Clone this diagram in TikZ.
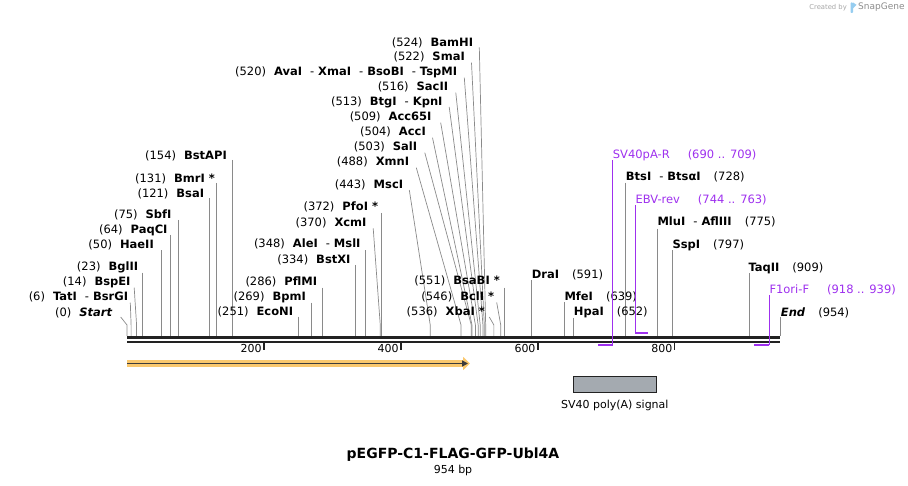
\documentclass[tikz,border=0pt]{standalone}
\usepackage{fontspec}
\setmainfont{DejaVu Sans}
\usepackage{tikz}
\usetikzlibrary{calc,arrows.meta,backgrounds}

\definecolor{sitegray}{RGB}{138,138,138}
\definecolor{primerpurple}{RGB}{158,48,238}
\definecolor{barblack}{RGB}{34,34,34}
\definecolor{cdsorange}{RGB}{250,200,110}
\definecolor{cdsline}{RGB}{60,60,60}
\definecolor{featgray}{RGB}{164,170,176}
\definecolor{logoblue}{RGB}{150,205,240}

\tikzstyle{lefttag} = [anchor=east, inner sep=0pt, font=\fontsize{11.5}{13}\selectfont, text height=10pt, text depth=1.6pt]
\tikzstyle{righttag} = [lefttag, anchor=west]
\tikzstyle{primertag} = [righttag, text=primerpurple]
\tikzstyle{siteline} = [draw=sitegray, line width=0.7pt]
\tikzstyle{primerline} = [draw=primerpurple, line width=1.2pt]
\tikzstyle{primerbar} = [draw=primerpurple, line width=2pt]
\tikzstyle{ticklabel} = [anchor=east, inner sep=0pt, font=\fontsize{11}{13}\selectfont]

\newcommand{\tagnum}[1]{(#1)\hskip 8pt}
\newcommand{\tagpos}[1]{\hskip 13pt(#1)}
\newcommand{\dsh}{\hskip 8pt-\hskip 4pt}

\begin{document}
\begin{tikzpicture}[x=1pt,y=-1pt]
\useasboundingbox (0,0) rectangle (908,486);

%==============================================
%Sites on the sequence
%==============================================
\foreach \p in {0,6,14,23,50,64,75,121,131,154,200,251,269,286,334,348,370,372,400,443,488,503,504,509,513,516,520,522,524,536,546,551,591,600,639,652,728,775,797,800,909,954}
  \coordinate (s\p) at ({127+0.6845*\p},336);

%Left group==============================================
\node[lefttag] (start) at (112.7,312) {\tagnum{0}\textbf{\textit{Start}}};
\node[lefttag] (tati) at (128.3,296.7) {\tagnum{6}\textbf{TatI}\dsh\textbf{BsrGI}};
\node[lefttag] (bspei) at (130.7,281.7) {\tagnum{14}\textbf{BspEI}};
\node[lefttag] (bglii) at (138.3,266.7) {\tagnum{23}\textbf{BglII}};
\node[lefttag] (haeii) at (154,244.5) {\tagnum{50}\textbf{HaeII}};
\node[lefttag] (paqci) at (167.7,229) {\tagnum{64}\textbf{PaqCI}};
\node[lefttag] (sbfi) at (171.7,214) {\tagnum{75}\textbf{SbfI}};
\node[lefttag] (bsai) at (204.3,193.3) {\tagnum{121}\textbf{BsaI}};
\node[lefttag] (bmri) at (215,178) {\tagnum{131}\textbf{BmrI *}};
\node[lefttag] (bstapi) at (227,155) {\tagnum{154}\textbf{BstAPI}};

%Middle group==============================================
\node[lefttag] (econi) at (293.3,311.7) {\tagnum{251}\textbf{EcoNI}};
\node[lefttag] (bpmi) at (306,296.7) {\tagnum{269}\textbf{BpmI}};
\node[lefttag] (pflmi) at (317.3,281.7) {\tagnum{286}\textbf{PflMI}};
\node[lefttag] (bstxi) at (350.7,259) {\tagnum{334}\textbf{BstXI}};
\node[lefttag] (alei) at (360.7,243.3) {\tagnum{348}\textbf{AleI}\dsh\textbf{MslI}};
\node[lefttag] (xcmi) at (366.7,222.3) {\tagnum{370}\textbf{XcmI}};
\node[lefttag] (pfoi) at (378.3,206) {\tagnum{372}\textbf{PfoI *}};

%MCS group==============================================
\node[lefttag] (msci) at (403.3,184) {\tagnum{443}\textbf{MscI}};
\node[lefttag] (xmni) at (409.3,161.7) {\tagnum{488}\textbf{XmnI}};
\node[lefttag] (sali) at (417.3,146.7) {\tagnum{503}\textbf{SalI}};
\node[lefttag] (acci) at (426,131.7) {\tagnum{504}\textbf{AccI}};
\node[lefttag] (acc65i) at (431.7,116.7) {\tagnum{509}\textbf{Acc65I}};
\node[lefttag] (btgi) at (442.7,101) {\tagnum{513}\textbf{BtgI}\dsh\textbf{KpnI}};
\node[lefttag] (sacii) at (448.3,86.7) {\tagnum{516}\textbf{SacII}};
\node[lefttag] (avai) at (457.3,71.7) {\tagnum{520}\textbf{AvaI}\dsh\textbf{XmaI}\dsh\textbf{BsoBI}\dsh\textbf{TspMI}};
\node[lefttag] (smai) at (465,56.7) {\tagnum{522}\textbf{SmaI}};
\node[lefttag] (bamhi) at (473.3,42.3) {\tagnum{524}\textbf{BamHI}};
\node[lefttag] (xbai) at (485,311) {\tagnum{536}\textbf{XbaI *}};
\node[lefttag] (bcli) at (494.3,296) {\tagnum{546}\textbf{BclI *}};
\node[lefttag] (bsabi) at (500,280.7) {\tagnum{551}\textbf{BsaBI *}};

%Right group==============================================
\node[righttag] (drai) at (531.7,274) {\textbf{DraI}\tagpos{591}};
\node[righttag] (mfei) at (564.3,296) {\textbf{MfeI}\tagpos{639}};
\node[righttag] (hpai) at (573.7,311.7) {\textbf{HpaI}\tagpos{652}};
\node[righttag] (btsi) at (625.7,176.7) {\textbf{BtsI}\dsh\textbf{Btsα{}I}\tagpos{728}};
\node[righttag] (mlui) at (657.3,221.7) {\textbf{MluI}\dsh\textbf{AflIII}\tagpos{775}};
\node[righttag] (sspi) at (672.3,244.3) {\textbf{SspI}\tagpos{797}};
\node[righttag] (taqii) at (748.3,267.3) {\textbf{TaqII}\tagpos{909}};
\node[righttag] (endsite) at (780.7,312.3) {\textbf{\textit{End}}\tagpos{954}};

%==============================================
\begin{scope}[on background layer]
\draw[siteline] ($(start.east)+(8,5)$) -- ([yshift=11pt]s0) -- (s0);
\draw[siteline] ($(tati.east)+(2,6)$) -- ([yshift=11pt]s6) -- (s6);
\draw[siteline] ($(bspei.east)+(3.5,6)$) -- ([yshift=11pt]s14) -- (s14);
\draw[siteline] ($(bglii.east -| s23)+(0,6)$) -- (s23);
\draw[siteline] ($(haeii.east -| s50)+(0,6)$) -- (s50);
\draw[siteline] ($(paqci.east -| s64)+(0,6)$) -- (s64);
\draw[siteline] ($(sbfi.east -| s75)+(0,6)$) -- (s75);
\draw[siteline] ($(bsai.east -| s121)+(0,5)$) -- (s121);
\draw[siteline] ($(bmri.east -| s131)+(0,5)$) -- (s131);
\draw[siteline] ($(bstapi.east -| s154)+(0,5)$) -- (s154);
\draw[siteline] ($(econi.east -| s251)+(0,5)$) -- (s251);
\draw[siteline] ($(bpmi.east -| s269)+(0,6)$) -- (s269);
\draw[siteline] ($(pflmi.east -| s286)+(0,6)$) -- (s286);
\draw[siteline] ($(bstxi.east -| s334)+(0,6)$) -- (s334);
\draw[siteline] ($(alei.east -| s348)+(0,7)$) -- (s348);
\draw[siteline] ($(xcmi.east)+(6.5,6)$) -- ([yshift=11pt]s370) -- (s370);
\draw[siteline] ($(pfoi.east -| s372)+(0,7)$) -- (s372);
\draw[siteline] ($(msci.east)+(6,6)$) -- ([yshift=11pt]s443) -- (s443);
\draw[siteline] ($(xmni.east)+(7,6)$) -- ([yshift=11pt]s488) -- (s488);
\draw[siteline] ($(sali.east)+(7.5,6)$) -- ([yshift=11pt]s503) -- (s503);
\draw[siteline] ($(acci.east)+(6.5,6)$) -- ([yshift=11pt]s504) -- (s504);
\draw[siteline] ($(acc65i.east)+(9,6)$) -- ([yshift=11pt]s509) -- (s509);
\draw[siteline] ($(btgi.east)+(6.5,6)$) -- ([yshift=11pt]s513) -- (s513);
\draw[siteline] ($(sacii.east)+(7.5,6)$) -- ([yshift=11pt]s516) -- (s516);
\draw[siteline] ($(avai.east)+(7,6)$) -- ([yshift=11pt]s520) -- (s520);
\draw[siteline] ($(smai.east)+(6.5,6)$) -- ([yshift=11pt]s522) -- (s522);
\draw[siteline] ($(bamhi.east)+(6,5)$) -- ([yshift=11pt]s524) -- (s524);
\draw[siteline] ($(xbai.east)+(4.3,6)$) -- ([yshift=11pt]s536) -- (s536);
\draw[siteline] ($(bcli.east)+(2.4,6.5)$) -- ([yshift=11pt]s546) -- (s546);
\draw[siteline] ($(bsabi.east -| s551)+(0,7)$) -- (s551);
\draw[siteline] ($(drai.west -| s591)+(0,6)$) -- (s591);
\draw[siteline] ($(mfei.west -| s639)+(0,6)$) -- (s639);
\draw[siteline] ($(hpai.west -| s652)+(0,6)$) -- (s652);
\draw[siteline] ($(btsi.west -| s728)+(0,6)$) -- (s728);
\draw[siteline] ($(mlui.west -| s775)+(0,7)$) -- (s775);
\draw[siteline] ($(sspi.west -| s797)+(0,6)$) -- (s797);
\draw[siteline] ($(taqii.west -| s909)+(0,6)$) -- (s909);
\draw[siteline] ($(endsite.west -| s954)+(0,5)$) -- (s954);
\end{scope}

%Sequence bar==============================================
\draw[barblack, line width=2.7pt] ($(s0)+(0,1.4)$) -- ($(s954)+(0,1.4)$);
\draw[barblack, line width=2pt] ($(s0)+(0,5.7)$) -- ($(s954)+(0,5.7)$);
\foreach \t in {200,400,600,800} {
  \draw[barblack, line width=1.6pt] ($(s\t)+(0,6.5)$) -- ($(s\t)+(0,14)$);
  \node[ticklabel] (tk\t) at ($(s\t)+(-2,12.5)$) {\t};
}

%Primers==============================================
\node[primertag] (sv40r) at (612.7,154.3) {SV40pA-R\hskip 18pt(690 .. 709)};
\coordinate (sv40rend) at (612.7,345.3);
\draw[primerline] ($(sv40r.west)+(0,6)$) -- (sv40rend);
\draw[primerbar] (sv40rend) -- ++(-14.5,0);

\node[primertag] (ebvrev) at (635.3,199) {EBV-rev\hskip 18pt(744 .. 763)};
\coordinate (ebvend) at (635.3,332.7);
\draw[primerline] ($(ebvrev.west)+(0,6)$) -- (ebvend);
\draw[primerbar] (ebvend) -- ++(13,0);

\node[primertag] (f1ori) at (769.3,289) {F1ori-F\hskip 18pt(918 .. 939)};
\coordinate (f1end) at (769.3,345.3);
\draw[primerline] ($(f1ori.west)+(0,6)$) -- (f1end);
\draw[primerbar] (f1end) -- ++(-15.5,0);

%Features==============================================
\coordinate (cdsa) at (127,363.5);
\coordinate (cdsb) at (470,363.5);
\draw[cdsorange, line width=6.5pt, -{Triangle[length=7pt,width=13pt]}] (cdsa) -- (cdsb);
\draw[cdsline, line width=1.8pt, -{Triangle[length=6pt,width=6pt]}] (cdsa) -- ([xshift=-2pt]cdsb);

\node[draw=barblack, fill=featgray, line width=0.9pt, minimum width=83.5pt, minimum height=16pt, inner sep=0pt] (polya) at (614.8,384) {};
\node[font=\fontsize{11}{13}\selectfont, inner sep=0pt] (polyalbl) at (614.8,405) {SV40 poly(A) signal};

%Title==============================================
\node[font=\bfseries\fontsize{14}{16}\selectfont, inner sep=0pt] (title) at (453,455) {pEGFP-C1-FLAG-GFP-Ubl4A};
\node[font=\fontsize{11}{13}\selectfont, inner sep=0pt] (bplen) at (453,470) {954 bp};

%Logo==============================================
\node[text=black!35, font=\fontsize{6.8}{8}\selectfont, anchor=east, inner sep=0pt] (madeby) at (847,7.5) {Created by};
\fill[logoblue, rounded corners=0.8pt] (850.5,2.5) rectangle (853,13);
\fill[logoblue] (853,2.5) -- (856.5,4.8) -- (853,8.5) -- cycle;
\node[text=black!45, font=\fontsize{9}{10}\selectfont, anchor=west, inner sep=0pt] (sgname) at (858,7.5) {SnapGene};
\end{tikzpicture}
\end{document}
